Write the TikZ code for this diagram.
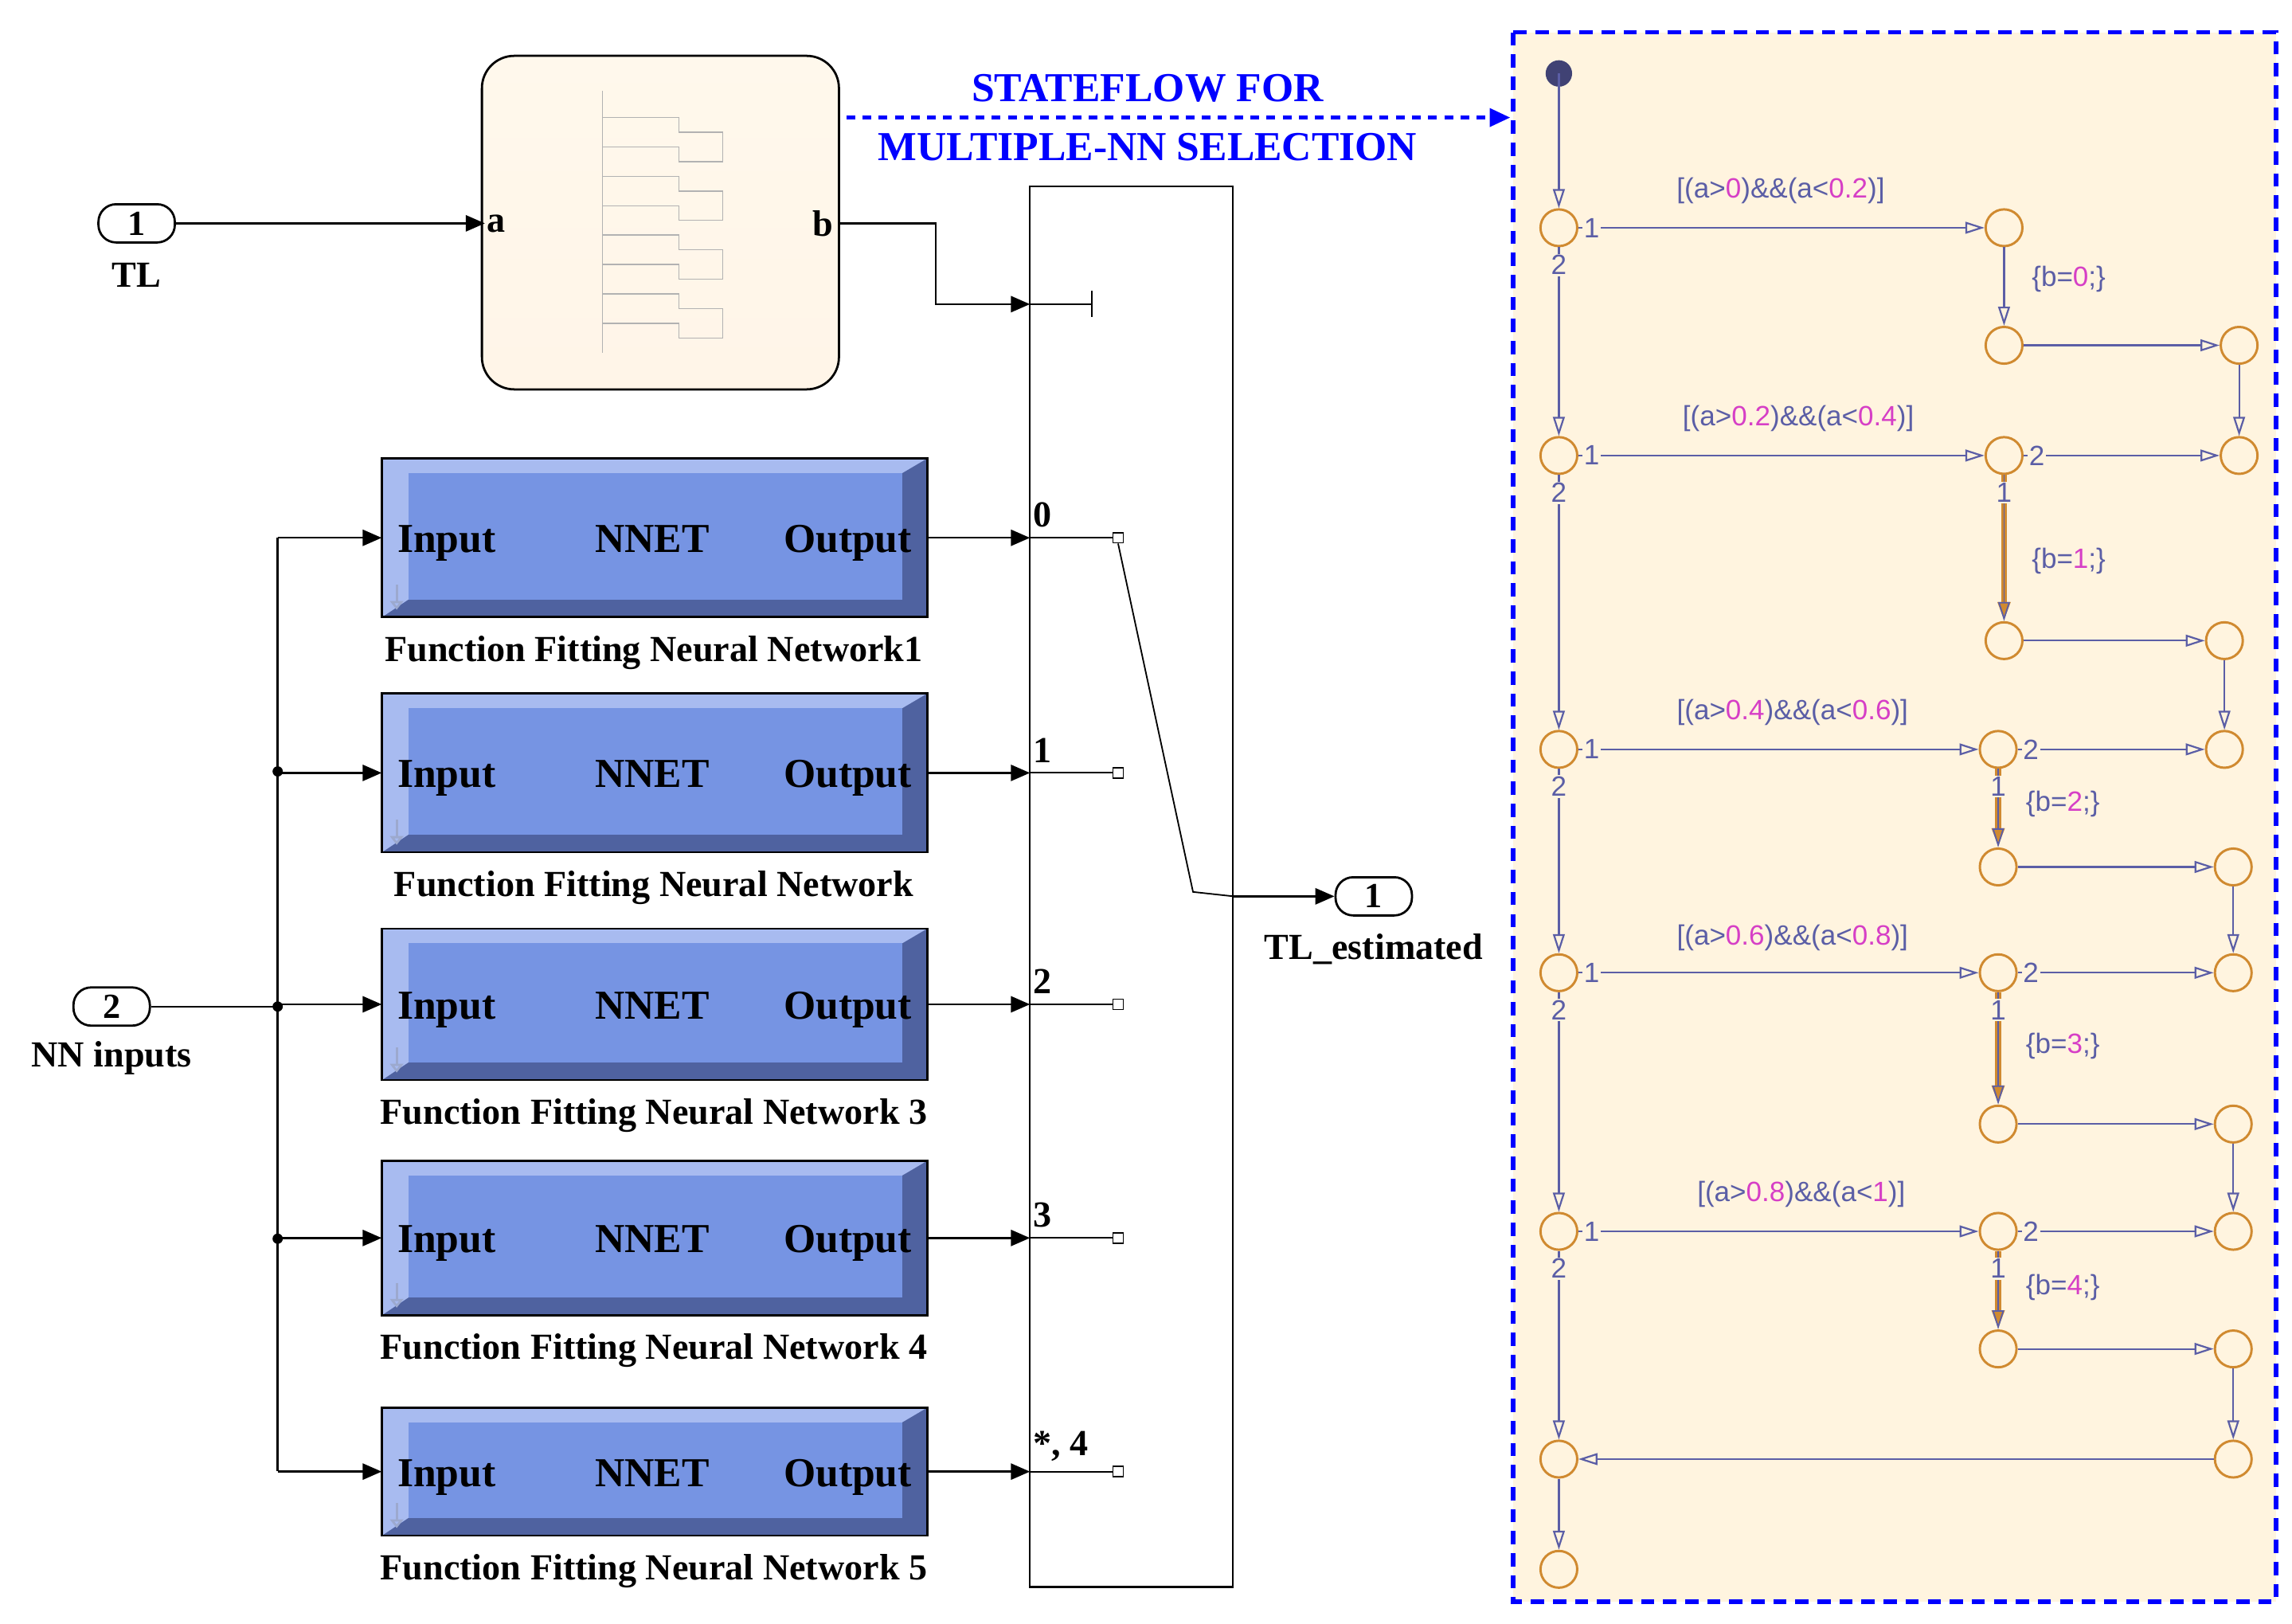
\documentclass[tikz,border=0pt]{standalone}
\usepackage{fontspec}
\setmainfont{Liberation Serif}
\newfontfamily\sfx{Liberation Sans}
\usetikzlibrary{arrows.meta,shapes.geometric,calc}
\definecolor{sfc}{HTML}{5B5EA6}
\definecolor{mag}{HTML}{D63FC6}
\definecolor{jor}{HTML}{D08A30}
\definecolor{cream}{HTML}{FFF4DF}
\definecolor{nnb}{HTML}{7694E3}
\definecolor{nnl}{HTML}{A8BBF0}
\definecolor{nnd}{HTML}{4F62A0}
\begin{document}
\begin{tikzpicture}[x=1pt,y=-1pt,
  port/.style={draw,line width=1.5,rounded corners=12,minimum width=52,minimum height=26,inner sep=0,font=\fontsize{24}{24}\selectfont\bfseries,fill=white},
  lbl/.style={font=\fontsize{25}{25}\selectfont\bfseries,inner sep=1},
  blk/.style={font=\fontsize{28}{28}\selectfont\bfseries,inner sep=0,anchor=base},
  sig/.style={line width=1.3,-{Triangle[length=13,width=11]}},
  jn/.style={circle,draw=jor,line width=1.6,minimum size=25,inner sep=0},
  tr/.style={draw=sfc,line width=1.2,-{Triangle[open,length=13,width=8]}},
  trh/.style={draw=jor,line width=4,-{Triangle[open,length=13,width=8]},postaction={draw=sfc,line width=1}},
  sft/.style={font=\sfx\fontsize{19}{19}\selectfont,text=sfc,inner sep=1},
  num/.style={font=\sfx\fontsize{19}{19}\selectfont,text=sfc,inner sep=1,fill=cream}]
\useasboundingbox (0,0) rectangle (1560,1105);
% right panel
\draw[blue,line width=3,dash pattern=on 9 off 6,fill=cream] (1030,22) rectangle (1549,1090);
% title
\node[font=\fontsize{28}{28}\selectfont\bfseries,text=blue] at (781,60) {STATEFLOW FOR};
\node[font=\fontsize{28}{28}\selectfont\bfseries,text=blue] at (781,100) {MULTIPLE-NN SELECTION};
\coordinate (ds) at (576,80); \coordinate (de) at (1028,80);
\draw[blue,line width=3,dash pattern=on 6 off 5,-{Triangle[length=14,width=12]}] (ds) -- (de);
% chart block
\node[draw,line width=1.5,rounded corners=22,minimum width=243,minimum height=227,inner sep=0,
  top color=cream!60!white,bottom color=cream!80!orange!30] (ch) at (449.5,151.5) {};
\begin{scope}[draw=gray!60,line width=0.8]
\draw (410,62) -- (410,240);
\foreach \yy in {80,100,120,140,160,180,200,220}{\draw (410,\yy) -- (462,\yy) -- (462,\yy+10) -- (492,\yy+10);}
\draw (492,90) -- (492,110); \draw (492,130)--(492,150); \draw (492,170)--(492,190); \draw(492,210)--(492,230);
\end{scope}
\node[lbl,anchor=west] (pa) at (330,152) {a};
\node[lbl,anchor=east] (pb) at (568,152) {b};
% ports
\node[port] (tl) at (93,152) {1};
\node[lbl] at (93,187) {TL};
\draw[sig] (tl.east) -- (pa.west);
% switch
\node[draw,line width=1.3,minimum width=138,minimum height=953,inner sep=0] (sw) at (770,603.5) {};
\coordinate (c0) at (701,207);
\draw[sig] (ch.east|-pb) -- (637,152) -- (637,207) -- (c0);
\draw[line width=1] (c0) -- (743,207) (743,198) -- (743,216);
% NN blocks
\foreach \i/\ya/\yb/\lab/\sl in {1/312/420/{Function Fitting Neural Network1}/0,2/472/580/{Function Fitting Neural Network}/1,3/632/735/{Function Fitting Neural Network 3}/2,4/790/895/{Function Fitting Neural Network 4}/3,5/958/1045/{Function Fitting Neural Network 5}/{*, 4}}{
  \pgfmathsetmacro\ym{(\ya+\yb)/2}
  \fill[nnd] (260,\ya) rectangle (631,\yb);
  \fill[nnl] (260,\ya) -- (631,\ya) -- (614,\ya+10) -- (278,\ya+10) -- (278,\yb-12) -- (260,\yb) -- cycle;
  \fill[nnb] (278,\ya+10) rectangle (614,\yb-12);
  \draw[line width=1.5] (260,\ya) rectangle (631,\yb);
  \draw[nnl!70!gray,line width=1.5,-{Triangle[open,length=6,width=9]}] (270,\yb-22) -- (270,\yb-5);
  \node[draw=none,minimum width=371,minimum height=\yb-\ya] (nn\i) at (445.5,\ym) {};
  \node[blk] at (304,\ym+10) {Input};
  \node[blk] at (444,\ym+10) {NNET};
  \node[blk] at (577,\ym+10) {Output};
  \node[lbl] at (445,{\yb+24}) {\lab};
  \coordinate (in\i) at (701,{\ym+0});
  \draw[sig] (nn\i.east) -- (in\i);
  \node[lbl,anchor=south west] at (702,\ym-6) {\sl};
  \node[draw,line width=0.8,minimum size=7,inner sep=0,fill=white] (sq\i) at (761,\ym) {};
  \draw[line width=1] (in\i) -- (sq\i.west);
}
% inputs
\node[port] (nin) at (76,685) {2};
\node[lbl] at (76,720) {NN inputs};
\coordinate (jj) at (189,685);
\draw[line width=1.3] (nin.east) -- (jj);
\draw[line width=1.3] (189,366) -- (189,1001);
\foreach \i in {1,...,5}{\draw[sig] (jj|-nn\i) -- (nn\i.west);}
\foreach \yy in {525,685,843}{\fill (189,\yy) circle (3.5);}
% output
\node[port] (out) at (935,610) {1};
\node[lbl] at (935,646) {TL\_estimated};
\draw[line width=1] (sq1.south) -- (812,607) -- (sw.east|-out);
\draw[sig] (sw.east|-out) -- (out.west);
% stateflow
\fill[sfc!70!black] (1061,50) circle (9) coordinate (st);
\foreach \n/\yy in {1/155,2/310,3/510,4/662,5/838,6/993,7/1068}{\node[jn] (L\n) at (1061,\yy) {};}
\foreach \n/\xx/\yy/\yyb in {1/1364/155/235,2/1364/310/436,3/1360/510/590,4/1360/662/765,5/1360/838/918}{
  \node[jn] (M\n) at (\xx,\yy) {}; \node[jn] (B\n) at (\xx,\yyb) {};}
\foreach \n/\xx/\ya/\yb in {1/1524/235/310,2/1514/436/510,3/1520/590/662,4/1520/765/838,5/1520/918/993}{
  \node[jn] (Ra\n) at (\xx,\ya) {}; \node[jn] (Rb\n) at (\xx,\yb) {};}
\draw[tr] (st) -- (L1.north);
\foreach \n/\m in {1/2,2/3,3/4,4/5,5/6}{
  \draw[tr] (L\n) -- (L\m);
  \node[num] at ($(L\n.south)+(0,12)$) {2};
  \draw[tr] (L\n) -- (M\n);
  \node[num] at ($(L\n.east)+(9,0)$) {1};
  \draw[tr] (B\n) -- (Ra\n);
  \draw[tr] (Ra\n) -- (Rb\n);
}
\draw[tr] (M1) -- (B1);
\foreach \n in {2,...,5}{\draw[trh] (M\n) -- (B\n);}
\foreach \n/\p in {2/1,3/2,4/3,5/4}{\draw[tr] (M\n) -- (Rb\p); \node[num] at ($(M\n.east)+(9,0)$) {2}; \node[num] at ($(M\n.south)+(0,12)$) {1};}
\draw[tr] (Rb5) -- (L6);
\draw[tr] (L6) -- (L7);
\node[sft] at (1212,130) {[(a>\textcolor{mag}{0})\&\&(a<\textcolor{mag}{0.2})]};
\node[sft] at (1224,285) {[(a>\textcolor{mag}{0.2})\&\&(a<\textcolor{mag}{0.4})]};
\node[sft] at (1220,485) {[(a>\textcolor{mag}{0.4})\&\&(a<\textcolor{mag}{0.6})]};
\node[sft] at (1220,638) {[(a>\textcolor{mag}{0.6})\&\&(a<\textcolor{mag}{0.8})]};
\node[sft] at (1226,813) {[(a>\textcolor{mag}{0.8})\&\&(a<\textcolor{mag}{1})]};
\node[sft] at (1408,190) {\{b=\textcolor{mag}{0};\}};
\node[sft] at (1408,382) {\{b=\textcolor{mag}{1};\}};
\node[sft] at (1404,547) {\{b=\textcolor{mag}{2};\}};
\node[sft] at (1404,712) {\{b=\textcolor{mag}{3};\}};
\node[sft] at (1404,876) {\{b=\textcolor{mag}{4};\}};
\end{tikzpicture}
\end{document}
